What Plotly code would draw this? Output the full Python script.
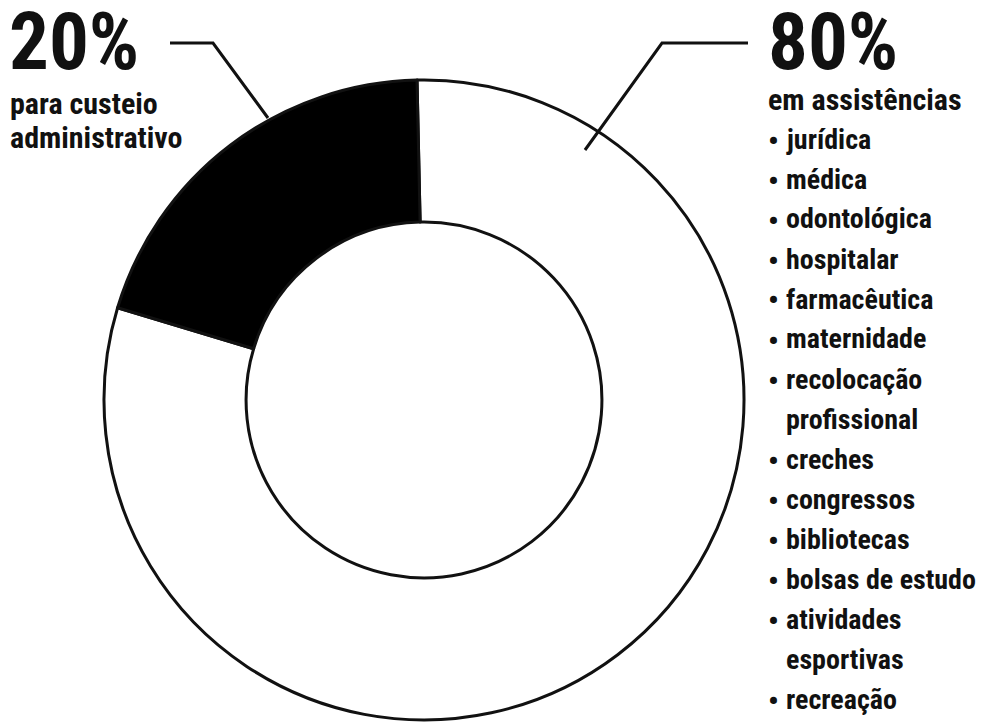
import plotly.graph_objects as go

# ---- data ----
slice_labels = ["em assistências", "para custeio administrativo"]
slice_values = [80, 20]
slice_colors = ["#ffffff", "#000000"]
pct_labels = ["20%", "80%"]
sub_labels_left = ["para custeio", "administrativo"]
sub_label_right = "em assistências"
assist_items = [
    "jurídica", "médica", "odontológica", "hospitalar", "farmacêutica",
    "maternidade", "recolocação|profissional", "creches", "congressos",
    "bibliotecas", "bolsas de estudo", "atividades|esportivas", "recreação",
]

W, H = 983, 724
FONT = "Roboto Condensed, Open Sans Condensed, Roboto, sans-serif"
INK = "#111111"


def px(x):
    return x / W


def py(y):
    return 1 - y / H


cx, cy, R = 424, 400, 320

fig = go.Figure(go.Pie(
    labels=slice_labels,
    values=slice_values,
    marker=dict(colors=slice_colors, line=dict(color=INK, width=3)),
    hole=0.556,
    sort=False,
    direction="clockwise",
    rotation=-1.25,
    textinfo="none",
    hoverinfo="label+percent",
    showlegend=False,
    domain=dict(x=[px(cx - R), px(cx + R)], y=[py(cy + R), py(cy - R)]),
))

ann = []
# Big percentages
ann.append(dict(text="<b>%s</b>" % pct_labels[0], x=px(7), y=py(42), xanchor="left",
                yanchor="middle", font=dict(size=79, family=FONT, color=INK)))
ann.append(dict(text="<b>%s</b>" % pct_labels[1], x=px(766), y=py(42), xanchor="left",
                yanchor="middle", font=dict(size=79, family=FONT, color=INK)))
# Sub labels
for k, t in enumerate(sub_labels_left):
    ann.append(dict(text="<b>%s</b>" % t, x=px(8), y=py(104 + 33 * k), xanchor="left",
                    yanchor="middle", font=dict(size=30, family=FONT, color=INK)))
ann.append(dict(text="<b>%s</b>" % sub_label_right, x=px(766), y=py(100), xanchor="left",
                yanchor="middle", font=dict(size=30, family=FONT, color=INK)))

# Bullet list
base0, step = 148, 40
line_i = 0
for item in assist_items:
    parts = item.split("|")
    for j, p in enumerate(parts):
        yb = base0 + step * line_i
        ymid = yb - 9
        if j == 0:
            ann.append(dict(text="<b>•</b>", x=px(766), y=py(ymid + 1), xanchor="left",
                            yanchor="middle", font=dict(size=30, family=FONT, color=INK)))
        ann.append(dict(text="<b>%s</b>" % p, x=px(784), y=py(ymid), xanchor="left",
                        yanchor="middle", font=dict(size=28, family=FONT, color=INK)))
        line_i += 1

for a in ann:
    a.update(xref="paper", yref="paper", showarrow=False)

shapes = [
    dict(type="path", path="M %f %f L %f %f L %f %f" % (px(170), py(43), px(213), py(43), px(268), py(118)),
         xref="paper", yref="paper", line=dict(color=INK, width=3)),
    dict(type="path", path="M %f %f L %f %f L %f %f" % (px(748), py(43), px(662), py(43), px(585), py(150)),
         xref="paper", yref="paper", line=dict(color=INK, width=3)),
]

fig.update_layout(
    width=W, height=H,
    margin=dict(l=0, r=0, t=0, b=0),
    paper_bgcolor="white", plot_bgcolor="white",
    annotations=ann, shapes=shapes,
)

fig.write_html("out.html", config={"displayModeBar": False},
               post_script="document.body.style.margin='0';")
